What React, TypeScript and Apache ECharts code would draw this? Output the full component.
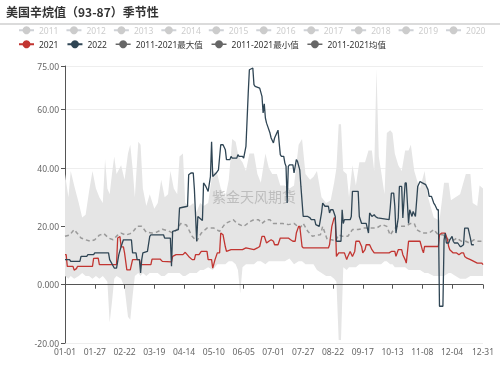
import React, { useEffect, useRef } from 'react';
import * as echarts from 'echarts';

const oldYears = ['2011', '2012', '2013', '2014', '2015', '2016', '2017', '2018', '2019', '2020'];
const monthDays = [31, 29, 31, 30, 31, 30, 31, 31, 30, 31, 30, 31];
const dayLabels: string[] = [];
monthDays.forEach((n, m) => {
  for (let d = 1; d <= n; d++) dayLabels.push(`${String(m + 1).padStart(2, '0')}-${String(d).padStart(2, '0')}`);
});

const yTicks = { min: -20, max: 75, interval: 20 };

// 2021 values: [day index, value]
const data2021: [number, number][] = [
  [0, 10.3], [1, 10.3], [2, 6.3], [7, 6.3], [8, 5], [10, 5.5], [11, 6.3], [24, 6.3], [25, 9], [29, 9.1], [30, 6.9], [45, 6.9],
  [46, 16], [48, 16.5], [49, 13], [51, 13], [52, 10.9], [54, 5.1], [57, 5.1], [59, 8.6], [65, 8.6], [66, 6.9], [75, 6.9],
  [76, 8.8], [83, 8.8], [85, 8], [93, 7.8], [94, 9.7], [97, 10.3], [103, 10.3], [105, 11.1], [108, 9.7], [111, 8.6], [113, 8.6],
  [114, 10.3], [117, 10.3], [119, 11.4], [124, 11.4], [125, 8.6], [128, 8.6], [129, 5.7], [131, 8.6], [133, 10.9], [135, 10.9],
  [136, 17.7], [138, 17.1], [140, 13], [141, 11.4], [145, 12], [152, 12], [155, 12], [158, 12.6], [165, 12], [168, 12.6],
  [170, 13.1], [172, 16.6], [174, 16.6], [176, 14.3], [178, 14.9], [180, 15.4], [182, 14.9], [183, 13.7], [186, 13.7], [188, 16],
  [195, 16], [197, 15.4], [199, 14.9], [201, 14.9], [202, 17.7], [204, 20], [205, 20], [207, 13.1], [208, 12.6], [230, 12.6],
  [231, 13.7], [233, 20], [235, 22.9], [236, 22.9], [237, 9.7], [239, 10.9], [244, 10.9], [246, 8.6], [247, 9.7], [249, 11.4],
  [251, 9.7], [253, 11.4], [254, 14.9], [257, 14.9], [259, 13.1], [260, 10.9], [262, 12], [263, 13.7], [266, 13.7], [268, 12],
  [270, 10.9], [283, 10.9], [285, 11.4], [288, 11.4], [289, 9.7], [291, 12], [294, 12], [295, 10.3], [297, 8.6], [298, 7.4],
  [300, 14.9], [310, 14.9], [312, 12], [313, 10.9], [314, 13.1], [326, 13.1], [327, 17.1], [329, 17.7], [332, 17.7], [334, 15.4],
  [335, 13.1], [336, 12], [339, 10.9], [342, 10.9], [344, 10.3], [346, 10.9], [348, 10.9], [349, 9.7], [351, 9.1], [354, 8.6],
  [357, 8], [360, 7.4], [364, 7.4], [365, 6.9],
];

// 2022 values: [day index, value]
const data2022: [number, number][] = [
  [0, 8.6], [4, 8.6], [5, 8], [13, 8], [14, 9.7], [19, 9.7], [20, 10.3], [25, 10.3], [26, 10.9], [38, 10.9], [39, 8.6], [43, 5.7],
  [45, 5.7], [47, 10.3], [49, 13.1], [51, 15.4], [58, 15.4], [59, 10.9], [62, 10.9], [63, 8.6], [65, 8.6], [66, 4], [67, 8.6],
  [68, 10.9], [72, 11.4], [74, 16.6], [75, 17.1], [86, 17.1], [87, 16], [92, 16], [93, 6.3], [94, 18.3], [99, 18.9], [100, 26.3],
  [107, 26.9], [108, 37.7], [110, 38.3], [112, 38.3], [113, 32.6], [115, 14.9], [116, 23.4], [120, 22], [121, 34.9], [123, 33.7],
  [125, 32], [127, 37.1], [128, 49], [129, 37.1], [132, 38.3], [134, 39.4], [136, 48], [138, 48], [140, 46.3], [141, 42.9],
  [144, 42.9], [145, 44], [146, 43.4], [150, 43.4], [151, 44.6], [152, 44], [155, 44], [156, 43.4], [158, 47.4], [160, 65.7],
  [161, 73.7], [164, 74.3], [165, 68.6], [166, 68], [170, 67.4], [172, 64.6], [173, 58.9], [174, 62], [175, 57.1], [176, 55.4],
  [177, 54.3], [179, 52], [180, 50.3], [182, 48.6], [183, 50.3], [186, 53], [188, 44.6], [189, 44], [191, 44], [192, 41.7],
  [193, 40.6], [194, 28], [195, 40.6], [196, 41.1], [199, 41.1], [200, 38.3], [202, 42.9], [203, 42.3], [205, 39.4], [206, 33.7],
  [208, 23.4], [212, 23.4], [214, 22.9], [215, 22.3], [218, 22.3], [219, 20.6], [222, 20], [224, 24.6], [225, 28], [227, 26.9],
  [230, 26.9], [231, 24.6], [232, 25.7], [234, 25.7], [236, 23.4], [237, 14.9], [241, 14.9], [242, 25.7], [243, 21], [244, 22.3],
  [249, 22.3], [250, 23.4], [251, 32], [256, 32], [257, 23.4], [259, 21], [263, 21], [265, 17.7], [266, 24.6], [268, 23.4],
  [270, 24], [271, 23.4], [273, 22.9], [283, 22.3], [284, 26.3], [285, 31.4], [287, 31.4], [288, 26.9], [289, 17.7], [291, 22.9],
  [292, 33.7], [294, 33.7], [295, 22.9], [297, 34.9], [298, 34.9], [300, 21], [301, 25.7], [303, 23.4], [304, 25.1], [306, 23.4],
  [308, 33.7], [310, 35.4], [312, 34.9], [315, 34.3], [317, 32.6], [318, 30.3], [320, 30.3], [322, 28], [323, 27.4], [325, 25.7],
  [326, 25.7], [327, -7.4], [330, -7.4], [331, 15.4], [332, 17.7], [333, 14.3], [335, 14.3], [336, 15.4], [338, 16.6], [339, 14.9],
  [340, 14.3], [343, 14.3], [345, 13.1], [346, 13.1], [348, 13.7], [349, 19.4], [352, 19.4], [354, 16], [355, 13.7], [357, 13.7],
];

// 2011-2021 mean: [day index, value]
const dataMean: [number, number][] = [
  [0, 16.6], [4, 17], [8, 18.9], [11, 17.5], [14, 16], [18, 15.4], [22, 14.9], [26, 15.4], [30, 17], [34, 17.5], [38, 16],
  [42, 15.4], [46, 17], [49, 17.7], [53, 17], [57, 17.5], [60, 18.5], [63, 20], [67, 20], [71, 18], [76, 17.7], [80, 18],
  [85, 19], [90, 18.5], [94, 17.7], [98, 19], [101, 21], [106, 20.5], [111, 16.6], [115, 14.9], [119, 17.7], [124, 19.4],
  [130, 19.4], [135, 18.3], [140, 21], [144, 21.7], [147, 22.3], [150, 21], [156, 20], [162, 21.7], [165, 22.3], [169, 22.3],
  [172, 21], [176, 22.3], [179, 22.3], [182, 21], [185, 21], [190, 21], [195, 20.6], [200, 21], [205, 19.4], [208, 21],
  [212, 18.3], [216, 16.6], [220, 17], [223, 17.1], [225, 20], [229, 15.4], [233, 15.4], [236, 14.9], [239, 17.1], [242, 16.6],
  [247, 16.6], [251, 18.9], [256, 18.9], [261, 19.4], [266, 19.4], [272, 19.4], [277, 20.6], [281, 20], [284, 17], [287, 18.9],
  [290, 20], [297, 20], [302, 21], [305, 21], [307, 18.9], [312, 17.7], [318, 17.7], [322, 18.9], [326, 17.1], [330, 17.1],
  [335, 15.4], [340, 15.4], [342, 16], [346, 14.9], [350, 14.9], [353, 14.3], [357, 15.4], [361, 14.9], [365, 14.9],
];

// 2011-2021 max / min band
const bandDays = [
  0, 3, 5, 8, 12, 15, 18, 21, 24, 27, 30, 33, 35, 37, 39, 41, 43, 45, 49, 52, 55, 57, 59, 61, 64, 66, 68, 71, 74, 78, 81, 84,
  87, 90, 92, 95, 98, 100, 103, 105, 109, 112, 115, 118, 121, 125, 129, 133, 136, 140, 143, 146, 149, 151, 153, 155, 158, 161,
  165, 168, 171, 175, 178, 181, 185, 188, 192, 196, 200, 204, 207, 210, 214, 217, 220, 224, 228, 232, 235, 237, 239, 241, 243,
  246, 248, 251, 254, 257, 262, 265, 268, 270, 272, 274, 276, 279, 281, 284, 286, 288, 291, 294, 297, 300, 302, 305, 308, 310,
  314, 317, 322, 327, 331, 335, 337, 341, 345, 350, 354, 356, 360, 362, 365,
];
const bandMax = [
  38, 30, 39, 34, 28, 23, 24, 32, 39, 33, 30, 28, 43, 33, 31, 38, 44, 38, 41, 36, 45, 48, 40, 30, 49, 48, 33, 27, 31, 26, 28, 36,
  30, 31, 39, 33, 31, 44, 45, 28, 27, 28, 25, 28, 27, 28, 39, 38, 33, 30, 36, 50, 49, 45, 43, 42, 39, 45,
  45, 38, 35, 45, 40, 38, 38, 34, 34, 33, 34, 48, 50, 38, 36, 37, 39, 30, 28, 29, 35, 40, 55, 55, 39,
  38, 30, 41, 34, 42, 42, 46, 46, 39, 74, 44, 39, 31, 52, 53, 52, 45, 41, 39, 46, 46, 48, 39, 35, 33,
  39, 30, 23, 22, 35, 35, 29, 30, 31, 38, 38, 28, 27, 34, 33,
];
const bandMin = [
  3, 2, 3, 2, 3, 4, 3, 3, 2, 3, 2, 3, 2, 1, -13, -6, 2, 3, 2, -1, -11, -12, -4, 3, 4, 3, 4, 3, 4, 4, 4, 3,
  3, 4, 4, 4, 4, 4, 3, 3, 4, 4, 4, 5, 5, 6, 5, 7, 7, 7, 8, 8, 7, 5, -3, 6, 7, 7,
  7, 8, 8, 7, 8, 8, 8, 8, 8, 9, 7, 8, 8, 7, 7, 7, 5, 4, 3, 3, 2, 1, -19, -19, 6,
  5, 6, 6, 6, 7, 7, 7, 7, 7, 7, 7, 7, 8, 8, 7, 7, 6, 6, 6, 6, 5, 5, 5, 5, 5,
  4, 4, 3, 3, 3, 4, 4, 3, 2, 2, 3, 3, 3, 3, 3,
];

const labelInterval = (i: number) => (i % 26 === 0 && i <= 338) || i === 365;
const font = "'Noto Sans', 'Noto Sans CJK SC', sans-serif";

export default function App() {
  const ref = useRef<HTMLDivElement>(null);
  useEffect(() => {
    const chart = echarts.init(ref.current!, null, { renderer: 'svg' });
    const darkIcon = { itemStyle: { color: '#666', opacity: 1 }, lineStyle: { color: '#666', opacity: 1, type: 'solid' as const, width: 1.5 } };
    const selected: Record<string, boolean> = {};
    oldYears.forEach((y) => (selected[y] = false));
    const option: any = {
      animation: false,
      textStyle: { fontFamily: font },
      title: {
        text: '美国辛烷值（93-87）季节性',
        left: 6,
        top: 5,
        padding: 0,
        textStyle: { fontSize: 12, fontWeight: 'bold', color: '#333', fontFamily: "'Noto Sans CJK SC', serif" },
      },
      graphic: [
        { type: 'line', shape: { x1: 0, y1: 24, x2: 500, y2: 24 }, style: { stroke: '#cfcfcf', lineWidth: 1.5 }, silent: true },
        {
          type: 'text', x: 254, y: 196, z: 3, silent: true,
          style: { text: '紫金天风期货', fontSize: 14, fill: 'rgba(140,140,140,0.45)', align: 'center', verticalAlign: 'middle', fontFamily: "'Noto Sans CJK SC', sans-serif" },
        },
      ],
      legend: [
        {
          data: oldYears, left: 18, top: 26, padding: 0, itemWidth: 15, itemHeight: 10, itemGap: 7,
          textStyle: { fontSize: 8.5, color: '#333', fontFamily: font }, inactiveColor: '#ccc', selected,
        },
        {
          data: ['2021', '2022', { name: '2011-2021最大值', ...darkIcon }, { name: '2011-2021最小值', ...darkIcon }, { name: '2011-2021均值', ...darkIcon }],
          left: 18, top: 40, padding: 0, itemWidth: 15, itemHeight: 10, itemGap: 8,
          textStyle: { fontSize: 8.5, color: '#333', fontFamily: font },
        },
      ],
      grid: { left: 65, right: 17, top: 66, bottom: 26, containLabel: false, outerBoundsMode: 'none' },
      xAxis: [
        {
          type: 'category', data: dayLabels, boundaryGap: false, z: 3,
          axisLine: { onZero: true, lineStyle: { color: '#555' } },
          axisTick: { show: true, interval: labelInterval, length: 4, lineStyle: { color: '#555' } },
          axisLabel: { show: false }, splitLine: { show: false },
        },
        {
          type: 'category', data: dayLabels, boundaryGap: false, position: 'bottom',
          axisLine: { show: false, onZero: false }, axisTick: { show: false }, splitLine: { show: false },
          axisLabel: { show: true, interval: labelInterval, fontSize: 8.5, color: '#666', margin: 4, fontFamily: font, hideOverlap: false },
        },
      ],
      yAxis: {
        type: 'value', ...yTicks,
        axisLine: { show: true, lineStyle: { color: '#555' } },
        axisTick: { show: true, length: 4, lineStyle: { color: '#555' } },
        axisLabel: { formatter: (v: number) => v.toPrecision(4), fontSize: 8.5, color: '#666', margin: 6, fontFamily: font },
        splitLine: { show: true, lineStyle: { color: '#eee' } },
      },
      series: [
        ...oldYears.map((y) => ({ name: y, type: 'line', data: [], color: '#ccc', symbol: 'circle' })),
        {
          name: '2011-2021最小值', type: 'line', stack: 'band', stackStrategy: 'all', z: 1,
          data: bandDays.map((d, i) => [d, bandMin[i]]),
          symbol: 'circle', showSymbol: false, color: '#666', lineStyle: { opacity: 0 },
        },
        {
          name: '2011-2021最大值', type: 'line', stack: 'band', stackStrategy: 'all', z: 1,
          data: bandDays.map((d, i) => [d, bandMax[i] - bandMin[i]]),
          symbol: 'circle', showSymbol: false, color: '#666', lineStyle: { opacity: 0 },
          areaStyle: { color: '#e5e5e5', opacity: 1 },
        },
        {
          name: '2011-2021均值', type: 'line', data: dataMean, z: 4,
          symbol: 'circle', showSymbol: false, color: '#666',
          lineStyle: { color: '#9a9a9a', width: 1.5, type: [4, 3] },
        },
        {
          name: '2021', type: 'line', data: data2021, z: 5,
          symbol: 'circle', showSymbol: false, color: '#c23531', lineStyle: { width: 1.3 },
        },
        {
          name: '2022', type: 'line', data: data2022, z: 6,
          symbol: 'circle', showSymbol: false, color: '#2f4554', lineStyle: { width: 1.3 },
        },
      ],
    };
    chart.setOption(option);
    return () => chart.dispose();
  }, []);
  return <div ref={ref} style={{ position: 'fixed', left: 0, top: 0, width: 500, height: 369 }} />;
}
